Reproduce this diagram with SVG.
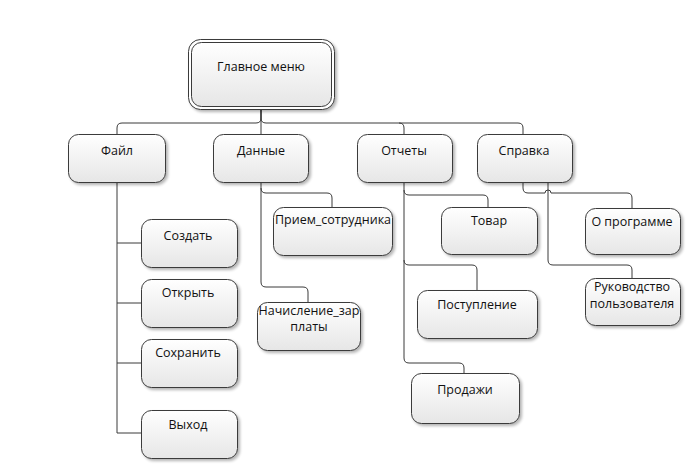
<svg xmlns="http://www.w3.org/2000/svg" width="700" height="468" viewBox="0 0 700 468">
<defs>
<linearGradient id="g" x1="0" y1="0" x2="0" y2="1">
<stop offset="0" stop-color="#ffffff"/>
<stop offset="1" stop-color="#e6e6e6"/>
</linearGradient>
<filter id="sh" x="-10%" y="-10%" width="130%" height="130%">
<feGaussianBlur in="SourceAlpha" stdDeviation="1.5"/>
<feOffset dx="2" dy="2" result="b"/>
<feComponentTransfer><feFuncA type="linear" slope="0.3"/></feComponentTransfer>
<feMerge><feMergeNode/><feMergeNode in="SourceGraphic"/></feMerge>
</filter>
</defs>
<style>
.box{fill:url(#g);stroke:#3a3a3a;stroke-width:1;filter:url(#sh)}
.t{font-family:"Open Sans","Liberation Sans",sans-serif;font-size:12.5px;fill:#111;text-anchor:middle}
.c{fill:none;stroke:#3a3a3a;stroke-width:1}
</style>
<rect width="700" height="468" fill="#ffffff"/>
<g id="connectors">
<path class="c" d="M261,110 V134"/>
<path class="c" d="M261,110 V118 Q261,123 256,123 H122 Q117,123 117,128 V134"/>
<path class="c" d="M261,110 V118 Q261,123 266,123 H518 Q523,123 523,128 V134"/>
<path class="c" d="M399,123 Q404,123 404,128 V134"/>
<path class="c" d="M117,182 V433 H141"/>
<path class="c" d="M117,243 H141 M117,303 H141 M117,363 H141"/>
<path class="c" d="M261,182 V188 Q261,193 266,193 H327 Q332,193 332,198 V207"/>
<path class="c" d="M261,188 V282 Q261,287 266,287 H303 Q308,287 308,292 V302"/>
<path class="c" d="M404,182 V190 Q404,195 409,195 H483 Q488,195 488,200 V207"/>
<path class="c" d="M404,190 V260 Q404,265 409,265 H472 Q477,265 477,270 V290"/>
<path class="c" d="M404,260 V358 Q404,363 409,363 H459 Q464,363 464,368 V373"/>
<path class="c" d="M523,182 V188 Q523,193 528,193 H545 A3,3 0 0 1 551,193 H627 Q632,193 632,198 V208"/>
<path class="c" d="M548,182 V260 Q548,265 553,265 H627 Q632,265 632,270 V278"/>
</g>
<g id="main">
<rect x="188.5" y="39.5" width="146" height="70" rx="12" fill="#fff" stroke="#3a3a3a" filter="url(#sh)"/>
<rect x="191.5" y="42.5" width="140" height="64" rx="10" fill="url(#g)" stroke="#3a3a3a"/>
<text class="t" x="261" y="71">Главное меню</text>
</g>
<g id="file"><rect class="box" x="68.5" y="134.5" width="97" height="48" rx="10"/><text class="t" x="117" y="155">Файл</text></g>
<g id="data"><rect class="box" x="213.5" y="134.5" width="95" height="48" rx="10"/><text class="t" x="261" y="155">Данные</text></g>
<g id="reports"><rect class="box" x="357.5" y="134.5" width="95" height="48" rx="10"/><text class="t" x="404" y="155">Отчеты</text></g>
<g id="help"><rect class="box" x="477.5" y="134.5" width="95" height="48" rx="10"/><text class="t" x="524" y="155">Справка</text></g>
<g id="create"><rect class="box" x="141.5" y="219.5" width="96" height="48" rx="10"/><text class="t" x="188" y="240">Создать</text></g>
<g id="open"><rect class="box" x="141.5" y="279.5" width="96" height="48" rx="10"/><text class="t" x="188" y="297">Открыть</text></g>
<g id="save"><rect class="box" x="141.5" y="339.5" width="96" height="48" rx="10"/><text class="t" x="188" y="357">Сохранить</text></g>
<g id="exit"><rect class="box" x="141.5" y="410.5" width="96" height="48" rx="10"/><text class="t" x="188" y="429">Выход</text></g>
<g id="hire"><rect class="box" x="273.5" y="207.5" width="119" height="48" rx="10"/><text class="t" x="333" y="224">Прием_сотрудника</text></g>
<g id="salary"><rect class="box" x="257.5" y="302.5" width="103" height="48" rx="10"/><text class="t" x="309" y="315">Начисление_зар</text><text class="t" x="309" y="331">платы</text></g>
<g id="goods"><rect class="box" x="441.5" y="207.5" width="96" height="47" rx="10"/><text class="t" x="489" y="225">Товар</text></g>
<g id="income"><rect class="box" x="417.5" y="290.5" width="120" height="48" rx="10"/><text class="t" x="477" y="309">Поступление</text></g>
<g id="sales"><rect class="box" x="411.5" y="373.5" width="108" height="50" rx="10"/><text class="t" x="465" y="394">Продажи</text></g>
<g id="about"><rect class="box" x="585.5" y="208.5" width="95" height="46" rx="10"/><text class="t" x="632" y="226">О программе</text></g>
<g id="manual"><rect class="box" x="585.5" y="278.5" width="95" height="47" rx="10"/><text class="t" x="632" y="291">Руководство</text><text class="t" x="632" y="308">пользователя</text></g>
</svg>
